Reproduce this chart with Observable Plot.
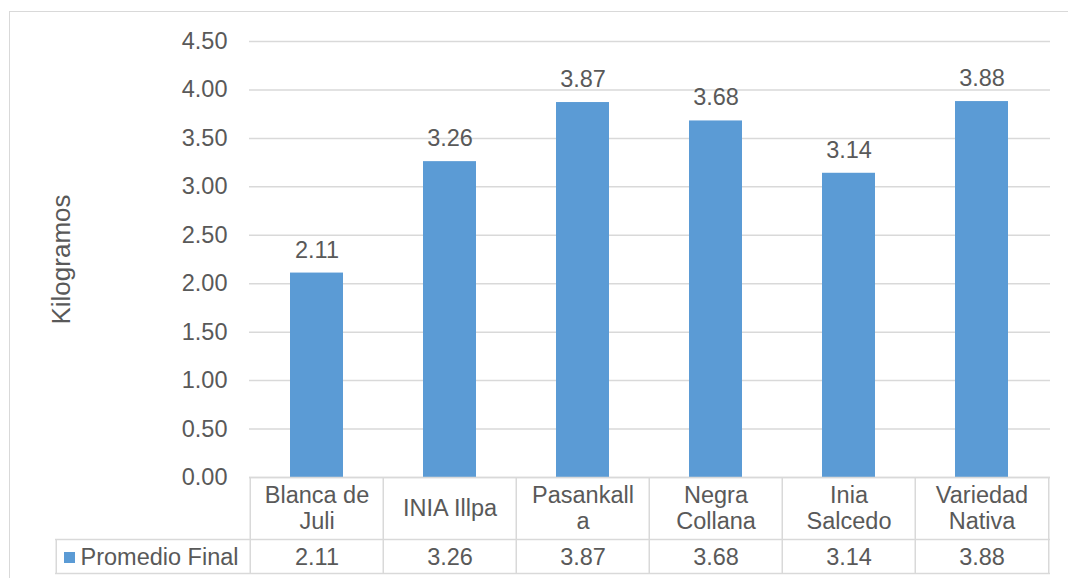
<!DOCTYPE html>
<html>
<head>
<meta charset="utf-8">
<script src="https://cdn.jsdelivr.net/npm/d3@7"></script>
<script src="https://cdn.jsdelivr.net/npm/@observablehq/plot@0.6"></script>
<style>
  html, body { margin: 0; padding: 0; background: #fff; }
  #wrap { position: relative; width: 1068px; height: 578px; overflow: hidden; }
  #border { position: absolute; left: 9px; top: 11px; width: 2000px; height: 2000px;
            border-left: 1px solid #d9d9d9; border-top: 1px solid #d9d9d9; pointer-events: none; }
  svg { font-family: "Liberation Sans", Arial, sans-serif; }
</style>
</head>
<body>
<div id="wrap"><div id="border"></div></div>
<script>
const categories = ["Blanca de Juli", "INIA Illpa", "Pasankalla", "Negra Collana", "Inia Salcedo", "Variedad Nativa"];
const categoryLabels = ["Blanca de\nJuli", "INIA Illpa", "Pasankall\na", "Negra\nCollana", "Inia\nSalcedo", "Variedad\nNativa"];
const values = [2.11, 3.26, 3.87, 3.68, 3.14, 3.88];
const yTicks = [0, 0.5, 1, 1.5, 2, 2.5, 3, 3.5, 4, 4.5];
const seriesName = "Promedio Final";
const yLabel = "Kilogramos";

const rows = categories.map((c, i) => ({cat: c, label: categoryLabels[i], value: values[i]}));

const W = 1068, H = 578;
const mL = 249, mR = 18, mT = 41, mB = 101;
const bw = (W - mL - mR) / categories.length;
const txt = "#595959", grid = "#d9d9d9", bar = "#5b9bd5";
const fs = 23.5;
const plotH = H - mT - mB;

const chart = Plot.plot({
  width: W, height: H,
  marginLeft: mL, marginRight: mR, marginTop: mT, marginBottom: mB,
  style: {fontFamily: '"Liberation Sans", Arial, sans-serif', color: txt, background: "transparent"},
  x: {domain: categories, paddingInner: 0.6, paddingOuter: 0.3, axis: null},
  y: {domain: [0, 4.5]},
  marks: [
    Plot.gridY(yTicks, {stroke: grid, strokeOpacity: 1, strokeWidth: 1.5}),
    Plot.axisY(yTicks, {tickFormat: d3.format(".2f"), tickSize: 0, tickPadding: 22, fontSize: fs, fill: txt, label: null}),
    Plot.barY(rows, {x: "cat", y: "value", fill: bar}),
    Plot.text(rows, {x: "cat", y: "value", text: d => d3.format(".2f")(d.value), dy: -23, fontSize: fs, fill: txt, lineAnchor: "middle"}),
    // axis / table top line
    Plot.ruleY([0], {stroke: grid, strokeWidth: 1.5}),
    // table horizontal lines
    Plot.ruleY([0], {dy: 62, insetLeft: -(mL - 55), stroke: grid, strokeWidth: 1.5}),
    Plot.ruleY([0], {dy: 96, insetLeft: -(mL - 55), stroke: grid, strokeWidth: 1.5}),
    // table vertical lines
    Plot.ruleX(rows, {x: "cat", dx: -bw / 2, insetTop: plotH, insetBottom: -96, stroke: grid, strokeWidth: 1.5}),
    Plot.ruleX([rows[rows.length - 1]], {x: "cat", dx: bw / 2, insetTop: plotH, insetBottom: -96, stroke: grid, strokeWidth: 1.5}),
    Plot.ruleX([rows[0]], {x: "cat", dx: -bw / 2 - (mL - 55), insetTop: plotH + 62, insetBottom: -96, stroke: grid, strokeWidth: 1.5}),
    // category labels
    Plot.text(rows, {x: "cat", y: () => 0, text: "label", dy: 30.5, fontSize: fs, fill: txt, lineAnchor: "middle", lineHeight: 1.1}),
    // value row
    Plot.text(rows, {x: "cat", y: () => 0, text: d => d3.format(".2f")(d.value), dy: 80, fontSize: fs, fill: txt, lineAnchor: "middle"}),
    // legend key
    Plot.dot([seriesName], {frameAnchor: "bottom-left", dx: 69 - mL, dy: 80, symbol: "square", r: 6.2, fill: bar, stroke: null}),
    Plot.text([seriesName], {frameAnchor: "bottom-left", dx: 80 - mL, dy: 80, text: d => d, textAnchor: "start", lineAnchor: "middle", fontSize: fs, fill: txt}),
    // y label
    Plot.text([yLabel], {frameAnchor: "left", dx: 61 - mL, rotate: -90, text: d => d, textAnchor: "middle", fontSize: 26, fill: txt, lineAnchor: "middle"})
  ]
});
document.getElementById("wrap").appendChild(chart);
chart.style.position = "absolute";
chart.style.left = "0px";
chart.style.top = "0px";
</script>
</body>
</html>
